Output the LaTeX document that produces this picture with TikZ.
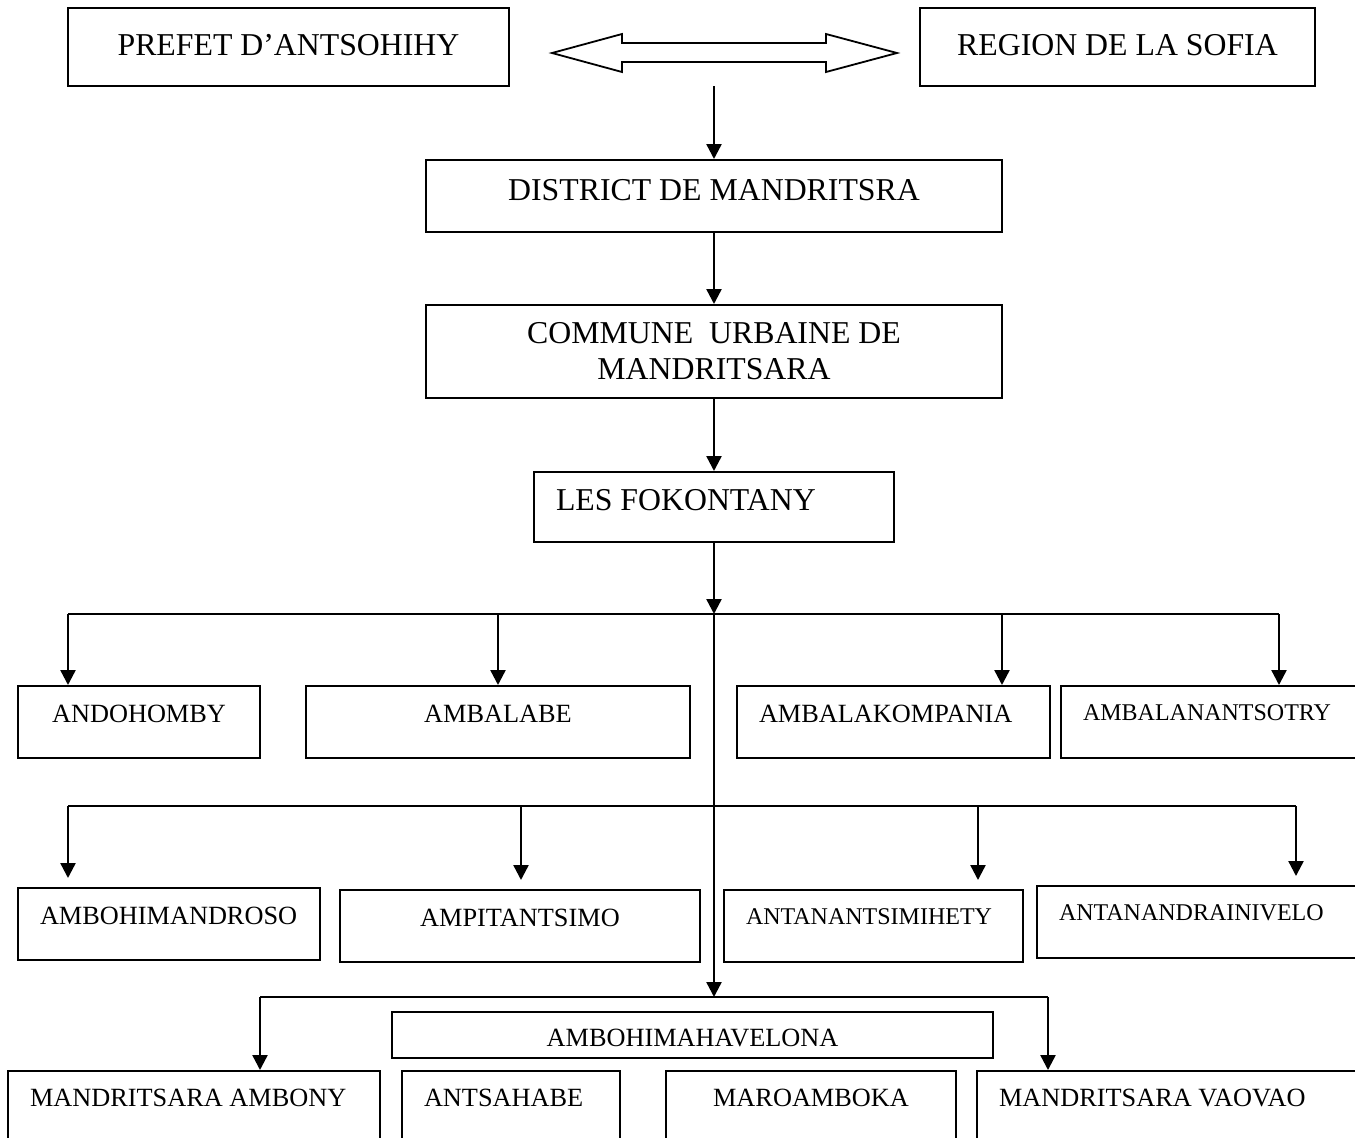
\documentclass[tikz,border=0pt]{standalone}
\usepackage{fontspec}
\setmainfont{Liberation Serif}
\usetikzlibrary{arrows.meta}
\newcommand{\lpad}[1]{\hspace*{22pt}#1}

\begin{document}
\begin{tikzpicture}[x=1pt, y=-1pt,
box/.style={draw, line width=2pt, inner sep=0pt, minimum width=#1},
lbox/.style={box=#1, align=flush left, text width=#1},
bigtext/.style={font=\fontsize{31.8}{36}\selectfont},
midtext/.style={font=\fontsize{26.3}{30}\selectfont, text height=36pt, text depth=36pt},
smalltext/.style={font=\fontsize{24}{28}\selectfont, text height=34pt, text depth=38pt},
lowtext/.style={midtext, text height=35pt, text depth=45pt},
arr/.style={line width=2.4pt, -{Triangle[length=15pt, width=15pt]}},
bus/.style={line width=2pt}]
\path[use as bounding box, fill=white] (0,0) rectangle (1355,1138);

\node[box=441pt, bigtext, text height=47.5pt, text depth=30.5pt] (prefet) at (288.5,47) {PREFET D’ANTSOHIHY};
\node[box=395pt, bigtext, text height=47.5pt, text depth=30.5pt] (region) at (1117.5,47) {REGION DE LA SOFIA};
\draw[line width=1.8pt] (552,53) -- (622,34) -- (622,43) -- (826,43) -- (826,34) -- (897,53)
  -- (826,72) -- (826,62) -- (622,62) -- (622,72) -- cycle;
\coordinate (split) at (714,86);
\node[box=576pt, bigtext, text height=40.5pt, text depth=31.5pt] (district) at (714,196) {DISTRICT DE MANDRITSRA};
\node[box=576pt, bigtext, minimum height=93pt, align=center] (commune) at (714,351.5) {COMMUNE\ \ URBAINE DE\\MANDRITSARA};
\node[lbox=360pt, bigtext, text height=38.5pt, text depth=31.5pt] (fokontany) at (714,507) {\lpad{LES FOKONTANY}};

\node[box=242pt, midtext] (andohomby) at (139,722) {ANDOHOMBY};
\node[box=384pt, midtext] (ambalabe) at (498,722) {AMBALABE};
\node[lbox=313pt, midtext] (ambalakompania) at (893.5,722) {\lpad{AMBALAKOMPANIA}};
\node[lbox=310pt, smalltext] (ambalanantsotry) at (1216,722) {\lpad{AMBALANANTSOTRY}};

\node[lbox=302pt, midtext] (ambohimandroso) at (169,924) {\lpad{AMBOHIMANDROSO}};
\node[box=360pt, midtext] (ampitantsimo) at (520,926) {AMPITANTSIMO};
\node[lbox=299pt, smalltext] (antanantsimihety) at (873.5,926) {\lpad{ANTANANTSIMIHETY}};
\node[lbox=333pt, smalltext] (antanandrainivelo) at (1203.5,922) {\lpad{ANTANANDRAINIVELO}};

\node[box=601pt, midtext, text height=34pt, text depth=12pt] (ambohimahavelona) at (692.5,1035) {AMBOHIMAHAVELONA};
\node[lbox=372pt, lowtext] (ambony) at (194,1111) {\lpad{MANDRITSARA AMBONY}};
\node[lbox=218pt, lowtext] (antsahabe) at (511,1111) {\lpad{ANTSAHABE}};
\node[box=290pt, lowtext] (maroamboka) at (811,1111) {MAROAMBOKA};
\node[lbox=393pt, lowtext] (vaovao) at (1173.5,1111) {\lpad{MANDRITSARA VAOVAO}};

\coordinate (hub) at (714,614);
\coordinate (hub2) at (714,997);
\draw[arr] (split) -- (district);
\draw[arr] (district) -- (commune);
\draw[arr] (commune) -- (fokontany);
\draw[arr] (fokontany) -- (hub);
\draw[arr] (hub) -- (hub2);

\foreach \x/\n [count=\i] in {68/andohomby,498/ambalabe,1002/ambalakompania,1279/ambalanantsotry}{
  \coordinate (a\i) at (\x,614);
  \draw[arr] (a\i) -- (a\i |- \n.north);
}
\draw[bus] (a1) -- (a4);
\foreach \x/\n [count=\i] in {68/ambohimandroso,521/ampitantsimo,978/antanantsimihety,1296/antanandrainivelo}{
  \coordinate (b\i) at (\x,806);
  \draw[arr, shorten >=9pt] (b\i) -- (b\i |- \n.north);
}
\draw[bus] (b1) -- (b4);
\foreach \x/\n [count=\i] in {260/ambony,1048/vaovao}{
  \coordinate (c\i) at (\x,997);
  \draw[arr] (c\i) -- (c\i |- \n.north);
}
\draw[bus] (c1) -- (c2);
\end{tikzpicture}
\end{document}
